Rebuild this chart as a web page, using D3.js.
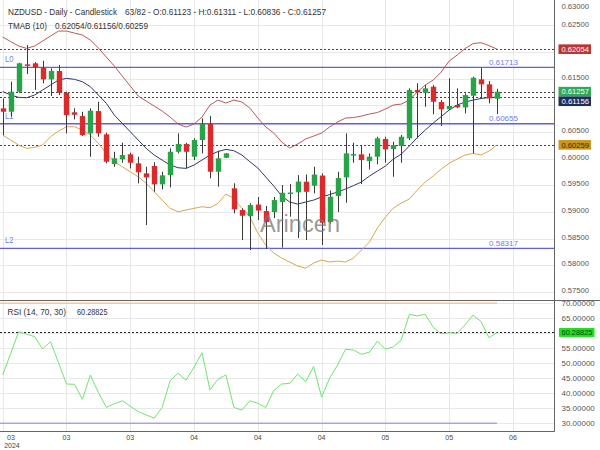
<!DOCTYPE html>
<html>
<head>
<meta charset="utf-8">
<script src="https://cdn.jsdelivr.net/npm/d3@7/dist/d3.min.js"></script>
<style>
  html, body { margin: 0; padding: 0; background: #fff; }
  svg { display: block; font-family: "Liberation Sans", Arial, sans-serif; }
</style>
</head>
<body>
<svg id="chart" width="600" height="450"></svg>
<script>
// ---------- DATA ----------
const openP  = [0.60944,0.60880,0.61255,0.61769,0.61788,0.61705,0.61488,0.61644,0.61236,0.60869,
                0.60799,0.60475,0.60893,0.60456,0.59899,0.59987,0.60081,0.59912,0.59724,0.59861,
                0.59518,0.59692,0.60129,0.60274,0.60036,0.60349,0.60649,0.59754,0.60017,0.59443,
                0.59036,0.58923,0.59139,0.59017,0.58998,0.59186,0.59355,0.59368,0.59567,0.59492,
                0.59683,0.58811,0.59298,0.59649,0.60073,0.60081,0.59955,0.60036,0.60368,0.60180,
                0.60236,0.60381,0.61287,0.61236,0.61349,0.61062,0.60925,0.61006,0.60962,0.61180,
                0.61488,0.61394,0.61123];
const highP  = [0.61131,0.61443,0.61799,0.62131,0.61812,0.61837,0.61694,0.61756,0.61255,0.60944,
                0.60880,0.60944,0.61068,0.60486,0.60129,0.60298,0.60111,0.60036,0.59848,0.59931,
                0.59754,0.60193,0.60475,0.60298,0.60381,0.60756,0.60799,0.60148,0.60105,0.59537,
                0.59068,0.59161,0.59280,0.59111,0.59280,0.59505,0.59523,0.59692,0.59702,0.59848,
                0.59724,0.59401,0.59754,0.60475,0.60298,0.60236,0.60099,0.60411,0.60411,0.60317,
                0.60443,0.61319,0.61413,0.61381,0.61381,0.61099,0.61507,0.61319,0.61225,0.61537,
                0.61705,0.61456,0.61311];
const lowP   = [0.60443,0.60786,0.61236,0.61587,0.61287,0.61413,0.61175,0.61193,0.60475,0.60737,
                0.60424,0.60036,0.60411,0.59912,0.59848,0.59923,0.59818,0.59537,0.58754,0.59379,
                0.59424,0.59462,0.60099,0.59818,0.59974,0.60099,0.59630,0.59473,0.60011,0.58974,
                0.58473,0.58285,0.58848,0.58304,0.58886,0.58332,0.58910,0.58510,0.58473,0.59349,
                0.58379,0.58782,0.58998,0.59173,0.59923,0.59523,0.59799,0.59893,0.59923,0.59660,
                0.59923,0.60349,0.60381,0.60974,0.60831,0.60612,0.60912,0.60949,0.60850,0.60099,
                0.61131,0.61038,0.60836];
const closeP = [0.60880,0.61255,0.61788,0.61743,0.61713,0.61488,0.61644,0.61236,0.60818,0.60824,
                0.60443,0.60899,0.60475,0.59942,0.60006,0.60068,0.59923,0.59743,0.59649,0.59518,
                0.59687,0.60129,0.60274,0.60129,0.60349,0.60649,0.59754,0.60006,0.60099,0.59049,
                0.58929,0.59129,0.59026,0.58811,0.59223,0.59360,0.59364,0.59570,0.59379,0.59702,
                0.58797,0.59285,0.59636,0.60099,0.60086,0.59974,0.60036,0.60381,0.60174,0.60255,
                0.60411,0.61287,0.61244,0.61319,0.61068,0.60925,0.60987,0.60962,0.61193,0.61518,
                0.61394,0.61131,0.61257];

const tmabUpper = [0.62281,0.62197,0.62113,0.62069,0.62113,0.62206,0.62300,0.62394,0.62394,0.62356,
                   0.62319,0.62225,0.62075,0.61906,0.61737,0.61550,0.61362,0.61175,0.61081,0.60987,
                   0.60893,0.60781,0.60649,0.60593,0.60649,0.60781,0.61006,0.61099,0.61043,0.61099,
                   0.61062,0.60949,0.60762,0.60593,0.60480,0.60311,0.60199,0.60274,0.60368,0.60424,
                   0.60480,0.60593,0.60687,0.60762,0.60771,0.60799,0.60837,0.60865,0.60931,0.61006,
                   0.61024,0.61099,0.61250,0.61381,0.61475,0.61625,0.61831,0.61944,0.62066,0.62160,
                   0.62175,0.62122,0.62054];
const tmabMid   = [0.61259,0.61193,0.61150,0.61143,0.61193,0.61287,0.61381,0.61475,0.61507,0.61488,
                   0.61443,0.61349,0.61193,0.61038,0.60818,0.60662,0.60505,0.60349,0.60193,0.60068,
                   0.59974,0.59880,0.59829,0.59818,0.59880,0.59974,0.60068,0.60133,0.60174,0.60148,
                   0.60068,0.59942,0.59824,0.59655,0.59486,0.59298,0.59186,0.59148,0.59186,0.59223,
                   0.59280,0.59326,0.59373,0.59430,0.59495,0.59561,0.59674,0.59767,0.59861,0.59992,
                   0.60086,0.60236,0.60396,0.60537,0.60668,0.60790,0.60912,0.61006,0.61062,0.61099,
                   0.61128,0.61146,0.61156];
const tmabLower = [0.60443,0.60349,0.60255,0.60193,0.60212,0.60255,0.60411,0.60518,0.60599,0.60599,
                   0.60537,0.60443,0.60287,0.60099,0.59942,0.59848,0.59754,0.59660,0.59537,0.59379,
                   0.59223,0.59068,0.59004,0.59036,0.59068,0.59098,0.59079,0.59161,0.59336,0.59255,
                   0.59068,0.58910,0.58604,0.58379,0.58229,0.58135,0.58060,0.57985,0.57947,0.58041,
                   0.58098,0.58060,0.58079,0.58060,0.58135,0.58285,0.58435,0.58698,0.58904,0.59073,
                   0.59167,0.59242,0.59411,0.59561,0.59674,0.59805,0.59912,0.59992,0.60068,0.60099,
                   0.60068,0.60143,0.60259];

const rsiValues = [46.1,53.3,60.5,59.7,58.9,54.8,57.2,50.2,43.1,43.0,
                   38.0,46.1,40.3,35.3,36.5,37.5,35.7,33.9,32.8,31.7,
                   35.3,44.2,46.7,44.4,48.7,53.5,41.1,44.7,46.1,35.3,
                   34.4,37.5,36.7,35.3,40.9,43.1,43.3,46.4,43.9,48.9,
                   38.7,45.0,49.4,54.7,54.4,53.0,53.7,57.4,54.7,55.5,
                   57.8,66.3,65.8,66.3,62.0,59.8,60.2,60.0,62.8,66.1,
                   63.9,58.5,60.28825];

const levelNames  = ["L0", "L1", "L2"];
const levelValues = [0.61713, 0.60655, 0.58317];

const priceTicks = [0.575,0.580,0.585,0.590,0.595,0.600,0.605,0.610,0.615,0.620,0.625,0.630];
const rsiTicks   = [25,30,35,40,45,50,55,60,65,70];
const xTickIdx   = [0,8,16,24,32,40,48,56,64];
const xTickLabels= ["03","03","03","04","04","04","05","05","06"];
const yearLabel  = "2024";

const titleLine1a = "NZDUSD - Daily - Candlestick";
const titleLine1b = "63/82 - O:0.61123 - H:0.61311 - L:0.60836 - C:0.61257";
const titleLine2a = "TMAB (10)";
const titleLine2b = "0.62054/0.61156/0.60259";
const rsiTitleA = "RSI (14, 70, 30)";
const rsiTitleB = "60.28825";
const rsiLast = 60.28825;
const rsiHigh = 70, rsiLow = 30;

// ---------- LAYOUT ----------
const svg = d3.select("#chart");
const axisX = 554;
const priceTop = 0, priceBottom = 300;
const rsiTop = 300, rsiBottom = 431.7;
const n = closeP.length;

const x = d3.scaleLinear().domain([0, n - 1]).range([2.7, 497]);
const y = d3.scaleLinear().domain([0.575, 0.630]).range([291.9, -1.25]);
const yr = d3.scaleLinear().domain([30, 70]).range([423.3, 303.3]);

// text helper: fixed font size, width fitted to the reference
function addText(g, tx, ty, str, size, color, width, anchor) {
  const t = g.append("text").attr("x", tx).attr("y", ty)
    .attr("font-size", size).attr("fill", color).text(str);
  if (anchor) t.attr("text-anchor", anchor);
  if (width) t.attr("textLength", width).attr("lengthAdjust", "spacingAndGlyphs");
  return t;
}

svg.append("rect").attr("width", 600).attr("height", 450).attr("fill", "#fff");

const defs = svg.append("defs");
defs.append("clipPath").attr("id", "clipPrice").append("rect")
  .attr("x", 0).attr("y", priceTop).attr("width", axisX).attr("height", priceBottom - priceTop);
defs.append("clipPath").attr("id", "clipRsi").append("rect")
  .attr("x", 0).attr("y", rsiTop).attr("width", axisX).attr("height", rsiBottom - rsiTop);
defs.append("clipPath").attr("id", "clipRsiAxis").append("rect")
  .attr("x", axisX).attr("y", rsiTop).attr("width", 600 - axisX).attr("height", rsiBottom - rsiTop);

const gridColor = "#e8e8e8";

// price grid
const gp = svg.append("g").attr("clip-path", "url(#clipPrice)");
gp.selectAll("line.hg").data(priceTicks).enter().append("line")
  .attr("x1", 0).attr("x2", axisX)
  .attr("y1", d => Math.round(y(d)) + 0.5).attr("y2", d => Math.round(y(d)) + 0.5)
  .attr("stroke", gridColor);
gp.selectAll("line.vg").data(xTickIdx).enter().append("line")
  .attr("x1", d => Math.round(x(d)) + 0.5).attr("x2", d => Math.round(x(d)) + 0.5)
  .attr("y1", priceTop).attr("y2", priceBottom).attr("stroke", gridColor);

// rsi grid
const gr = svg.append("g").attr("clip-path", "url(#clipRsi)");
gr.selectAll("line.hg").data(rsiTicks).enter().append("line")
  .attr("x1", 0).attr("x2", axisX)
  .attr("y1", d => Math.round(yr(d)) + 0.5).attr("y2", d => Math.round(yr(d)) + 0.5)
  .attr("stroke", gridColor);
gr.selectAll("line.vg").data(xTickIdx).enter().append("line")
  .attr("x1", d => Math.round(x(d)) + 0.5).attr("x2", d => Math.round(x(d)) + 0.5)
  .attr("y1", rsiTop).attr("y2", rsiBottom).attr("stroke", gridColor);

// watermark
addText(svg, 260, 232, "Arincen", 23, "#777", 80).attr("fill-opacity", 0.75);

// level lines
const levelColor = "#5f5fe0";
const lv = gp.append("g");
levelValues.forEach((v, i) => {
  lv.append("line").attr("x1", 0).attr("x2", axisX)
    .attr("y1", y(v)).attr("y2", y(v)).attr("stroke", levelColor).attr("stroke-width", 1.3);
  addText(lv, 5, y(v) - 5, levelNames[i], 8.5, "#6f7fe6", 8.5);
  addText(lv, 489, y(v) - 2.5, d3.format(".5f")(v), 8, "#6f7fe6", 29);
});

// dotted last-value lines
const last = n - 1;
const dottedVals = [tmabUpper[last], closeP[last], tmabMid[last], tmabLower[last]];
gp.selectAll("line.dot").data(dottedVals).enter().append("line")
  .attr("x1", 0).attr("x2", axisX)
  .attr("y1", d => Math.round(y(d)) + 0.5).attr("y2", d => Math.round(y(d)) + 0.5)
  .attr("stroke", "#444").attr("stroke-dasharray", "2,2");

// TMAB bands
const bandLine = d3.line().x((d, i) => x(i)).y(d => y(d));
gp.append("path").attr("d", bandLine(tmabUpper)).attr("fill", "none").attr("stroke", "#b85a5a").attr("stroke-width", 1);
gp.append("path").attr("d", bandLine(tmabLower)).attr("fill", "none").attr("stroke", "#d6a84e").attr("stroke-width", 1);
gp.append("path").attr("d", bandLine(tmabMid)).attr("fill", "none").attr("stroke", "#2f3b66").attr("stroke-width", 1);

// candles
const idx = d3.range(n);
const cg = gp.append("g");
cg.selectAll("line.wick").data(idx).enter().append("line")
  .attr("x1", i => Math.round(x(i)) + 0.5).attr("x2", i => Math.round(x(i)) + 0.5)
  .attr("y1", i => y(highP[i])).attr("y2", i => y(lowP[i]))
  .attr("stroke", "#3a3a3a").attr("stroke-width", 1);
const bw = 5.4;
cg.selectAll("rect.body").data(idx).enter().append("rect")
  .attr("x", i => Math.round(x(i)) + 0.5 - bw / 2)
  .attr("width", bw)
  .attr("y", i => y(Math.max(openP[i], closeP[i])))
  .attr("height", i => Math.max(1.5, Math.abs(y(openP[i]) - y(closeP[i]))))
  .attr("fill", i => closeP[i] >= openP[i] ? "#27a348" : "#dc2a2a");

// titles
const tcol = "#333";
addText(svg, 8, 14.5, titleLine1a, 9.4, tcol, 109);
addText(svg, 125, 14.5, titleLine1b, 9.4, tcol, 201);
addText(svg, 8, 28.5, titleLine2a, 9.4, tcol, 39);
addText(svg, 55, 28.5, titleLine2b, 9.4, tcol, 93);

// RSI panel
const rg = svg.append("g").attr("clip-path", "url(#clipRsi)");
rg.append("line").attr("x1", 0).attr("x2", x(last)).attr("y1", yr(rsiHigh)).attr("y2", yr(rsiHigh))
  .attr("stroke", "#f5c985").attr("stroke-width", 1.4);
rg.append("line").attr("x1", 0).attr("x2", x(last)).attr("y1", yr(rsiLow)).attr("y2", yr(rsiLow))
  .attr("stroke", "#b89be8").attr("stroke-width", 1.4);
rg.append("line").attr("x1", 0).attr("x2", axisX)
  .attr("y1", Math.round(yr(rsiLast)) + 0.5).attr("y2", Math.round(yr(rsiLast)) + 0.5)
  .attr("stroke", "#222").attr("stroke-dasharray", "2,2");
const rsiLine = d3.line().x((d, i) => x(i)).y(d => yr(d));
rg.append("path").attr("d", rsiLine(rsiValues)).attr("fill", "none").attr("stroke", "#6ee46e").attr("stroke-width", 1);
addText(svg, 7.5, 314.8, rsiTitleA, 9.4, tcol, 58.5);
addText(svg, 77, 314.8, rsiTitleB, 9.4, tcol, 30.5);

// frame lines
svg.append("line").attr("x1", 0).attr("x2", 600).attr("y1", 300.5).attr("y2", 300.5).attr("stroke", "#666");
svg.append("line").attr("x1", 0).attr("x2", axisX + 0.5).attr("y1", 431.5).attr("y2", 431.5).attr("stroke", "#666");
svg.append("line").attr("x1", axisX + 0.5).attr("x2", axisX + 0.5).attr("y1", 0).attr("y2", 431.7).attr("stroke", "#666");

// value boxes on price axis (computed first so covered tick labels can be skipped)
const fmt5 = d3.format(".5f");
const boxes = [
  {v: tmabUpper[last], bg: "#b93434", fg: "#fff"},
  {v: closeP[last],    bg: "#2fa85a", fg: "#fff"},
  {v: tmabMid[last],   bg: "#1f2d5c", fg: "#fff"},
  {v: tmabLower[last], bg: "#c9971f", fg: "#3a2a00"}
];
const bh = 9.6;
let prevBottom = -Infinity;
boxes.forEach(b => {
  let cy = y(b.v);
  if (cy - bh / 2 < prevBottom) cy = prevBottom + bh / 2;
  prevBottom = cy + bh / 2;
  b.cy = cy;
});

// price axis labels (hidden where a value box sits on top)
const visiblePriceTicks = priceTicks.filter(t => boxes.every(b => Math.abs(y(t) - b.cy) > 9));
const pa = svg.append("g");
visiblePriceTicks.forEach(d => {
  addText(pa, 561.5, Math.max(6, y(d) - 1.5), fmt5(d), 7.6, "#555", 27.6).attr("dy", "0.35em");
});

boxes.forEach(b => {
  svg.append("rect").attr("x", 558.5).attr("y", b.cy - bh / 2).attr("width", 32.5).attr("height", bh).attr("fill", b.bg);
  addText(svg, 561.5, b.cy, fmt5(b.v), 7.6, b.fg, 27.6).attr("dy", "0.35em");
});

// rsi axis labels (hidden under the value box)
const rsiBoxY = yr(rsiLast);
const ra = svg.append("g").attr("clip-path", "url(#clipRsiAxis)");
rsiTicks.filter(d => Math.abs(yr(d) - rsiBoxY) > 8).forEach(d => {
  addText(ra, 561.5, yr(d), fmt5(d), 7.6, "#555", 33.3).attr("dy", "0.35em");
});
svg.append("rect").attr("x", 559).attr("y", rsiBoxY - 4.5).attr("width", 35.5).attr("height", 9).attr("fill", "#22dd22");
addText(svg, 561.5, rsiBoxY, fmt5(rsiLast), 7.6, "#114411", 31).attr("dy", "0.35em");

// x axis labels
const xa = svg.append("g");
xTickIdx.forEach((d, i) => {
  addText(xa, i === 0 ? Math.max(11, x(d)) : x(d), 439.5, xTickLabels[i], 7.4, "#444", 7.8, "middle");
});
addText(svg, 12, 448, yearLabel, 7.4, "#444", 15.5, "middle");
</script>
</body>
</html>
